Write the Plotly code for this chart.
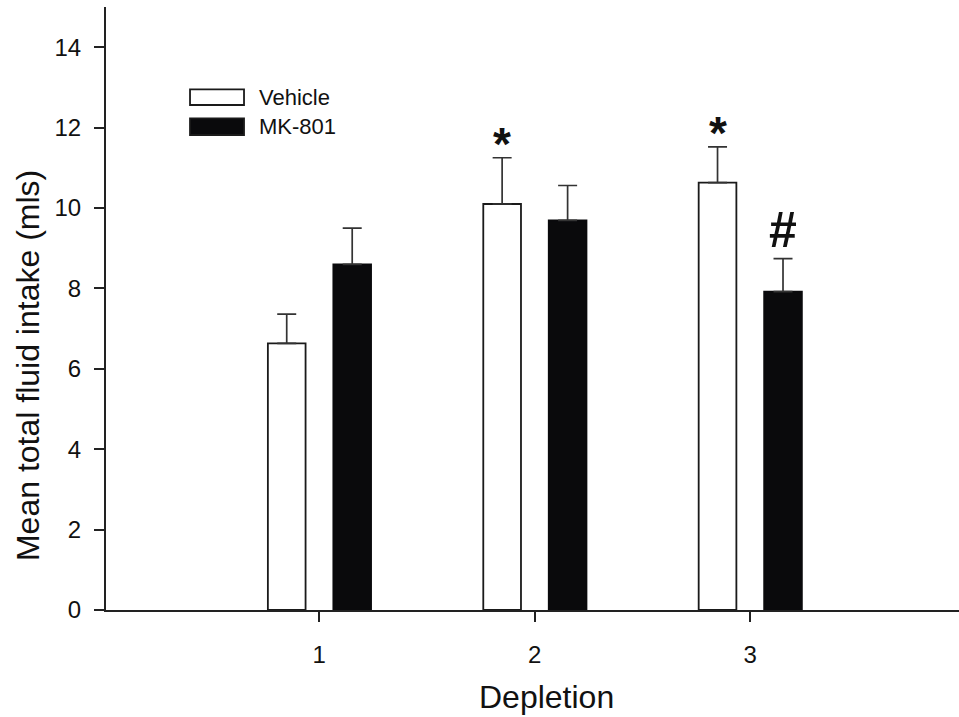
import plotly.graph_objects as go

categories = [1, 2, 3]
category_labels = ["1", "2", "3"]
series_names = ["Vehicle", "MK-801"]
vehicle_mean = [6.63, 10.10, 10.63]
vehicle_sem = [0.73, 1.15, 0.89]
mk801_mean = [8.60, 9.69, 7.92]
mk801_sem = [0.90, 0.87, 0.82]
vehicle_sig = ["", "*", "*"]
mk801_sig = ["", "", "#"]
y_ticks = [0, 2, 4, 6, 8, 10, 12, 14]

FONT = "Liberation Sans, Arial, sans-serif"
BW = 0.175
OFF_V = -0.151
OFF_M = 0.153
AX = "#222222"

fig = go.Figure()
fig.add_trace(go.Bar(
    x=categories, y=vehicle_mean, name=series_names[0],
    width=BW, offset=OFF_V - BW / 2,
    marker=dict(color="white", line=dict(color="#1a1a1a", width=1.8)),
    error_y=dict(type="data", array=vehicle_sem, arrayminus=[0] * 3, symmetric=False,
                 color="#333333", thickness=1.7, width=9.5),
    showlegend=False,
))
fig.add_trace(go.Bar(
    x=categories, y=mk801_mean, name=series_names[1],
    width=BW, offset=OFF_M - BW / 2,
    marker=dict(color="#0a0a0c", line=dict(color="#0a0a0c", width=1.8)),
    error_y=dict(type="data", array=mk801_sem, arrayminus=[0] * 3, symmetric=False,
                 color="#333333", thickness=1.7, width=9.5),
    showlegend=False,
))

# significance markers
def add_sig(labels, means, sems, off):
    for c, lab, m, s in zip(categories, labels, means, sems):
        if not lab:
            continue
        fig.add_annotation(
            x=c + off, y=m + s, xref="x", yref="y", text="<b>" + lab + "</b>", showarrow=False,
            xanchor="center", yanchor="bottom",
            yshift=-14 if lab == "*" else -1,
            font=dict(family=FONT, size=46 if lab == "*" else 50, color="#111111"),
        )

add_sig(vehicle_sig, vehicle_mean, vehicle_sem, OFF_V)
add_sig(mk801_sig, mk801_mean, mk801_sem, OFF_M)

# legend (drawn manually)
legend_y = [(0.8635, 0.8375), (0.8154, 0.7877)]
legend_fill = ["white", "#0a0a0c"]
for name, (y1, y0), fill in zip(series_names, legend_y, legend_fill):
    fig.add_shape(type="rect", xref="paper", yref="paper",
                  x0=0.0985, x1=0.1618, y0=y0, y1=y1,
                  fillcolor=fill, line=dict(color="#1a1a1a", width=1.8))
    fig.add_annotation(xref="paper", yref="paper", x=0.1775, y=(y0 + y1) / 2,
                       text=name, showarrow=False, xanchor="left", yanchor="middle",
                       font=dict(family=FONT, size=22, color="#111111"))

# axis titles
fig.add_annotation(xref="paper", yref="paper", x=-0.0914, y=0.4046,
                   text="Mean total fluid intake (mls)", textangle=-90, showarrow=False,
                   xanchor="center", yanchor="middle",
                   font=dict(family=FONT, size=32, color="#111111"))
fig.add_annotation(xref="paper", yref="paper", x=(546 - 106) / 853, y=-(697 - 610) / 603,
                   text="Depletion", showarrow=False, xanchor="center", yanchor="middle",
                   font=dict(family=FONT, size=32, color="#111111"))

fig.update_layout(
    width=959, height=717,
    margin=dict(l=106, r=0, t=7, b=107),
    paper_bgcolor="white", plot_bgcolor="white",
    barmode="overlay",
    font=dict(family=FONT, color="#111111"),
    xaxis=dict(
        range=[0.01, 3.97], tickmode="array", tickvals=categories, ticktext=category_labels,
        showline=True, linecolor=AX, linewidth=2, ticks="outside", ticklen=10,
        tickwidth=1.5, tickcolor=AX, showgrid=False, zeroline=False,
        tickfont=dict(family=FONT, size=24, color="#111111"), ticklabelstandoff=12,
    ),
    yaxis=dict(
        range=[0, 15], tickmode="array", tickvals=y_ticks,
        showline=True, linecolor=AX, linewidth=2, ticks="outside", ticklen=10,
        tickwidth=1.5, tickcolor=AX, showgrid=False, zeroline=False,
        tickfont=dict(family=FONT, size=24, color="#111111"), ticklabelstandoff=8,
    ),
)

fig.write_html("out.html")
